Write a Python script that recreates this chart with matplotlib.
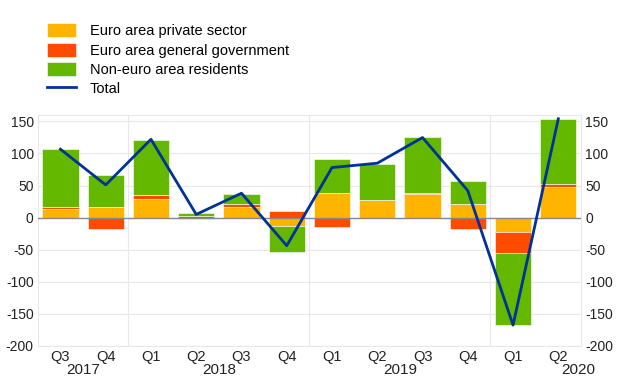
import numpy as np
import matplotlib.pyplot as plt

quarters = ['Q3', 'Q4', 'Q1', 'Q2', 'Q3', 'Q4', 'Q1', 'Q2', 'Q3', 'Q4', 'Q1', 'Q2']
years = ['2017', '2018', '2019', '2020']
year_pos = [0.5, 3.5, 7.5, 11.45]

private = [13.5, 16, 29, -2.5, 17, -13, 38, 27, 37, 22, -22, 47]
government = [3.5, -17, 6, 2.5, 4.5, 10.4, -15, 1, 1, -17, -32.6, 5.2]
non_euro = [89.5, 51, 86, 4.5, 15, -40, 54, 56, 87, 35.5, -112, 102]
total = [106.6, 51, 122, 5, 38, -43.7, 78, 84.8, 124.8, 42, -167.5, 154]

c_priv = '#FFB400'
c_gov = '#FF4B00'
c_non = '#65B800'
c_tot = '#003299'
grid_c = '#E8E8E8'

plt.rcParams['font.family'] = ['Liberation Sans', 'DejaVu Sans']
plt.rcParams['axes.unicode_minus'] = False
fig = plt.figure(figsize=(6.2, 3.87), dpi=100)
ax = fig.add_axes([0.061, 0.106, 0.876, 0.597])

x = np.arange(len(quarters))
series = [(private, c_priv, 'Euro area private sector'),
          (government, c_gov, 'Euro area general government'),
          (non_euro, c_non, 'Non-euro area residents')]
pos_base = np.zeros(len(x))
neg_base = np.zeros(len(x))
handles = []
for vals, col, lab in series:
    v = np.array(vals, dtype=float)
    bottoms = np.where(v >= 0, pos_base, neg_base)
    b = ax.bar(x, v, 0.8, bottom=bottoms, color=col, edgecolor='white',
               linewidth=0.4, label=lab, zorder=3)
    handles.append(b)
    pos_base = pos_base + np.where(v >= 0, v, 0)
    neg_base = neg_base + np.where(v < 0, v, 0)

ln, = ax.plot(x, total, color=c_tot, lw=2, label='Total', zorder=4)
handles.append(ln)

ax.set_xlim(-0.5, 11.5)
ax.set_ylim(-200, 160)
ax.set_yticks(np.arange(-200, 151, 50))
ax.grid(axis='y', color=grid_c, lw=0.8, zorder=0)
ax.axhline(0, color='#888888', lw=1, zorder=3.5)
for xs in [1.5, 5.5, 9.5]:
    ax.axvline(xs, color=grid_c, lw=0.8, zorder=0)

for s in ax.spines.values():
    s.set_color(grid_c)
    s.set_linewidth(0.8)

ax.tick_params(axis='y', length=0, labelsize=10, colors='#222222',
               right=True, labelright=True, pad=3)
ax.set_xticks(x)
ax.set_xticklabels(quarters, fontsize=10.5, color='#222222')
ax.tick_params(axis='x', length=0, pad=3)
for yp, yl in zip(year_pos, years):
    ax.text(yp, -0.075, yl, transform=ax.get_xaxis_transform(),
            ha='center', va='top', fontsize=11, color='#222222')

fig.legend(handles=handles, labels=[h.get_label() for h in handles],
           loc='upper left', bbox_to_anchor=(0.066, 0.955), frameon=False,
           fontsize=10.5, handlelength=2.0, handleheight=1.1,
           labelspacing=0.3, handletextpad=0.95, borderaxespad=0)

fig.savefig('out.png', dpi=100)
